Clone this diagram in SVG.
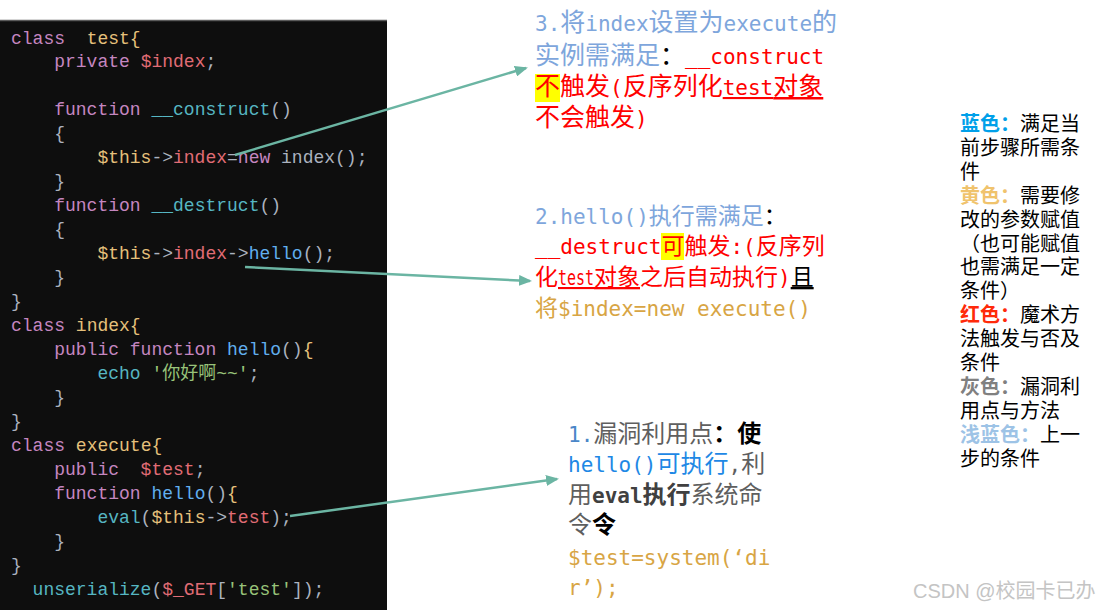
<svg xmlns="http://www.w3.org/2000/svg" width="1107" height="613" viewBox="0 0 1107 613">
<style>
.code{font-family:"Liberation Mono","Noto Sans CJK SC",monospace;font-size:18px;fill:#abb2bf}
.k{fill:#c586c0}.y{fill:#e5c07b}.r{fill:#e06c75}.c{fill:#56b6c2}.b{fill:#61afef}.g{fill:#abb2bf}.s{fill:#98c379}
.t{font-family:"Noto Sans CJK SC",sans-serif;font-size:25px}
.t2{font-family:"Noto Sans CJK SC",sans-serif;font-size:23px}
.t1{font-family:"Noto Sans CJK SC",sans-serif;font-size:24px}
.m{font-family:"DejaVu Sans Mono",monospace;font-size:21px}
.lb{fill:#7ea6dc}.rd{fill:#ff0000}.bk{fill:#000000}.gd{fill:#d8a544}.gy{fill:#5f5f5f}.bl{fill:#1e88e5}
.u{text-decoration:underline}
.bo{font-weight:bold}
.lg{font-family:"Noto Sans CJK SC",sans-serif;font-size:20px;fill:#000}
.wm{font-family:"Liberation Sans","Noto Sans CJK SC",sans-serif;font-size:20px;fill:#c4c4c4}
.conn{stroke:#6bb5a3;stroke-width:2.5;fill:none;marker-end:url(#ah)}
</style>
<defs>
<marker id="ah" markerUnits="userSpaceOnUse" markerWidth="13" markerHeight="11" refX="11" refY="5.5" orient="auto">
<path d="M0,0 L13,5.5 L0,11 z" fill="#6bb5a3"/>
</marker>
</defs>
<rect width="1107" height="613" fill="#ffffff"/>
<g id="code-panel">
<rect x="0" y="20" width="387" height="590" fill="#0e0e0e"/>
<line x1="0" y1="20.5" x2="387" y2="20.5" stroke="#5a5a5a" stroke-width="1.5"/>
<text class="code" x="11" y="44" xml:space="preserve"><tspan class="k">class</tspan>  <tspan class="y">test{</tspan></text>
<text class="code" x="54.2" y="67" xml:space="preserve"><tspan class="k">private</tspan> <tspan class="r">$index</tspan><tspan class="g">;</tspan></text>
<text class="code" x="54.2" y="115" xml:space="preserve"><tspan class="k">function</tspan> <tspan class="c">__construct</tspan><tspan class="g">()</tspan></text>
<text class="code" x="54.2" y="139"><tspan class="g">{</tspan></text>
<text class="code" x="97.4" y="163" xml:space="preserve"><tspan class="y">$this</tspan><tspan class="g">-&gt;</tspan><tspan class="r">index</tspan><tspan class="g">=</tspan><tspan class="k">new</tspan> <tspan class="g">index();</tspan></text>
<text class="code" x="54.2" y="187"><tspan class="g">}</tspan></text>
<text class="code" x="54.2" y="211" xml:space="preserve"><tspan class="k">function</tspan> <tspan class="c">__destruct</tspan><tspan class="g">()</tspan></text>
<text class="code" x="54.2" y="235"><tspan class="g">{</tspan></text>
<text class="code" x="97.4" y="259" xml:space="preserve"><tspan class="y">$this</tspan><tspan class="g">-&gt;</tspan><tspan class="r">index</tspan><tspan class="g">-&gt;</tspan><tspan class="b">hello</tspan><tspan class="g">();</tspan></text>
<text class="code" x="54.2" y="283"><tspan class="g">}</tspan></text>
<text class="code" x="11" y="307"><tspan class="g">}</tspan></text>
<text class="code" x="11" y="331" xml:space="preserve"><tspan class="k">class</tspan> <tspan class="y">index{</tspan></text>
<text class="code" x="54.2" y="355" xml:space="preserve"><tspan class="k">public</tspan> <tspan class="k">function</tspan> <tspan class="b">hello</tspan><tspan class="g">()</tspan><tspan class="y">{</tspan></text>
<text class="code" x="97.4" y="379" xml:space="preserve"><tspan class="c">echo</tspan> <tspan class="s">'你好啊~~'</tspan><tspan class="g">;</tspan></text>
<text class="code" x="54.2" y="403"><tspan class="g">}</tspan></text>
<text class="code" x="11" y="427"><tspan class="g">}</tspan></text>
<text class="code" x="11" y="451" xml:space="preserve"><tspan class="k">class</tspan> <tspan class="y">execute{</tspan></text>
<text class="code" x="54.2" y="475" xml:space="preserve"><tspan class="k">public</tspan>  <tspan class="r">$test</tspan><tspan class="g">;</tspan></text>
<text class="code" x="54.2" y="499" xml:space="preserve"><tspan class="k">function</tspan> <tspan class="b">hello</tspan><tspan class="g">()</tspan><tspan class="y">{</tspan></text>
<text class="code" x="97.4" y="523" xml:space="preserve"><tspan class="c">eval</tspan><tspan class="g">(</tspan><tspan class="y">$this</tspan><tspan class="g">-&gt;</tspan><tspan class="r">test</tspan><tspan class="g">);</tspan></text>
<text class="code" x="54.2" y="547"><tspan class="g">}</tspan></text>
<text class="code" x="11" y="571"><tspan class="g">}</tspan></text>
<text class="code" x="32.6" y="595" xml:space="preserve"><tspan class="c">unserialize</tspan><tspan class="g">(</tspan><tspan class="r">$_GET</tspan><tspan class="g">[</tspan><tspan class="s">'test'</tspan><tspan class="g">]);</tspan></text>
</g>
<g id="connectors">
<line class="conn" x1="235" y1="155" x2="526" y2="68"/>
<line class="conn" x1="245" y1="267" x2="530" y2="281"/>
<line class="conn" x1="290" y1="516" x2="557" y2="479"/>
</g>
<g id="note-3">
<rect x="535" y="74" width="25" height="28" fill="#ffff00"/>
<text class="t" x="535" y="31"><tspan class="lb"><tspan class="m">3.</tspan>将<tspan class="m">index</tspan>设置为<tspan class="m">execute</tspan>的</tspan></text>
<text class="t" x="535" y="64"><tspan class="lb">实例需满足</tspan><tspan class="bk">：</tspan><tspan class="m rd">__construct</tspan></text>
<text class="t rd" x="535" y="95">不触发<tspan class="m">(</tspan>反序列化<tspan class="u"><tspan class="m">test</tspan>对象</tspan></text>
<text class="t rd" x="535" y="126">不会触发<tspan class="m">)</tspan></text>
</g>
<g id="note-2">
<rect x="661" y="233" width="23" height="27" fill="#ffff00"/>
<text class="t2" x="535" y="224"><tspan class="lb"><tspan class="m">2.</tspan><tspan class="m">hello()</tspan>执行需满足</tspan><tspan class="bk">：</tspan></text>
<text class="t2 rd" x="535" y="254"><tspan class="m">__destruct</tspan>可触发<tspan class="m">:(</tspan>反序列</text>
<text class="t2 rd" x="535" y="285">化<tspan class="u"><tspan class="m" textLength="36" lengthAdjust="spacingAndGlyphs">test</tspan>对象</tspan>之后自动执行<tspan class="m">)</tspan><tspan class="bk u">且</tspan></text>
<text class="t2 gd" x="535" y="316">将<tspan class="m">$index=new execute()</tspan></text>
</g>
<g id="note-1">
<text class="t1" x="568" y="442"><tspan class="m" fill="#4a86c8">1.</tspan><tspan class="gy">漏洞利用点</tspan><tspan class="bk bo">：使</tspan></text>
<text class="t1" x="568" y="472"><tspan class="bl"><tspan class="m">hello()</tspan>可执行</tspan><tspan class="gy"><tspan class="m">,</tspan>利</tspan></text>
<text class="t1 gy" x="568" y="503">用<tspan class="bo" fill="#404040"><tspan class="m">eval</tspan>执行</tspan>系统命</text>
<text class="t1" x="568" y="533"><tspan class="gy">令</tspan><tspan class="bk bo">令</tspan></text>
<text class="m gd" x="568" y="565">$test=system(‘di</text>
<text class="m gd" x="568" y="595">r’);</text>
</g>
<g id="legend">
<text class="lg" x="960" y="131"><tspan class="bo" fill="#00a0e9">蓝色：</tspan>满足当</text>
<text class="lg" x="960" y="154.9">前步骤所需条</text>
<text class="lg" x="960" y="178.8">件</text>
<text class="lg" x="960" y="202.7"><tspan class="bo" fill="#f0c36d">黄色：</tspan>需要修</text>
<text class="lg" x="960" y="226.6">改的参数赋值</text>
<text class="lg" x="960" y="250.5">（也可能赋值</text>
<text class="lg" x="960" y="274.4">也需满足一定</text>
<text class="lg" x="960" y="298.3">条件）</text>
<text class="lg" x="960" y="322.2"><tspan class="bo" fill="#ff2a0a">红色：</tspan>魔术方</text>
<text class="lg" x="960" y="346.1">法触发与否及</text>
<text class="lg" x="960" y="370">条件</text>
<text class="lg" x="960" y="393.9"><tspan class="bo" fill="#808080">灰色：</tspan>漏洞利</text>
<text class="lg" x="960" y="417.8">用点与方法</text>
<text class="lg" x="960" y="441.7"><tspan class="bo" fill="#9dc3e6">浅蓝色：</tspan>上一</text>
<text class="lg" x="960" y="465.6">步的条件</text>
</g>
<text class="wm" x="913" y="598">CSDN @校园卡已办</text>
</svg>
